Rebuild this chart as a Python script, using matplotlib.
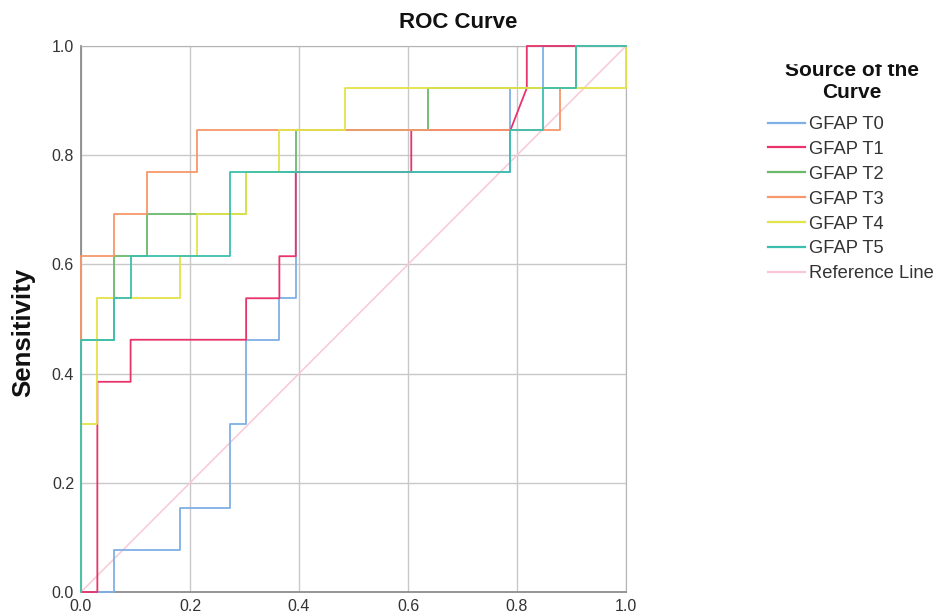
import matplotlib
matplotlib.use('Agg')
import matplotlib.pyplot as plt
from matplotlib.lines import Line2D
from matplotlib.patches import Rectangle

plt.rcParams['font.family'] = ['Liberation Sans', 'DejaVu Sans']

# 1 - specificity / sensitivity points
fpr_t0 = [0, 0.061, 0.061, 0.182, 0.182, 0.273, 0.273, 0.303, 0.303, 0.364, 0.364, 0.394, 0.394, 0.788, 0.788, 0.848, 0.848, 1.0]
tpr_t0 = [0, 0, 0.077, 0.077, 0.154, 0.154, 0.308, 0.308, 0.462, 0.462, 0.538, 0.538, 0.769, 0.769, 0.923, 0.923, 1.0, 1.0]

fpr_t1 = [0, 0.030, 0.030, 0.091, 0.091, 0.303, 0.303, 0.364, 0.364, 0.394, 0.394, 0.606, 0.606, 0.788, 0.818, 0.818, 1.0]
tpr_t1 = [0, 0, 0.385, 0.385, 0.462, 0.462, 0.538, 0.538, 0.615, 0.615, 0.769, 0.769, 0.846, 0.846, 0.923, 1.0, 1.0]

fpr_t2 = [0, 0, 0.061, 0.061, 0.121, 0.121, 0.303, 0.303, 0.394, 0.394, 0.636, 0.636, 0.909, 0.909, 1.0]
tpr_t2 = [0, 0.462, 0.462, 0.615, 0.615, 0.692, 0.692, 0.769, 0.769, 0.846, 0.846, 0.923, 0.923, 1.0, 1.0]

fpr_t3 = [0, 0, 0.061, 0.061, 0.121, 0.121, 0.212, 0.212, 0.879, 0.879, 0.909, 0.909, 1.0]
tpr_t3 = [0, 0.615, 0.615, 0.692, 0.692, 0.769, 0.769, 0.846, 0.846, 0.923, 0.923, 1.0, 1.0]

fpr_t4 = [0, 0, 0.030, 0.030, 0.182, 0.182, 0.212, 0.212, 0.303, 0.303, 0.364, 0.364, 0.485, 0.485, 1.0, 1.0]
tpr_t4 = [0, 0.308, 0.308, 0.538, 0.538, 0.615, 0.615, 0.692, 0.692, 0.769, 0.769, 0.846, 0.846, 0.923, 0.923, 1.0]

fpr_t5 = [0, 0, 0.061, 0.061, 0.091, 0.091, 0.273, 0.273, 0.788, 0.788, 0.848, 0.848, 0.909, 0.909, 1.0]
tpr_t5 = [0, 0.462, 0.462, 0.538, 0.538, 0.615, 0.615, 0.769, 0.769, 0.846, 0.846, 0.923, 0.923, 1.0, 1.0]

ref_x = [0, 1]
ref_y = [0, 1]

names = ['GFAP T0', 'GFAP T1', 'GFAP T2', 'GFAP T3', 'GFAP T4', 'GFAP T5']
colors = ['#7eb0e6', '#e8336b', '#6ab96a', '#f7976a', '#e3e34a', '#3dbfaf']
curves = [(fpr_t0, tpr_t0), (fpr_t1, tpr_t1), (fpr_t2, tpr_t2),
          (fpr_t3, tpr_t3), (fpr_t4, tpr_t4), (fpr_t5, tpr_t5)]
ticks = [0.0, 0.2, 0.4, 0.6, 0.8, 1.0]

W, H = 936, 614
fig = plt.figure(figsize=(W/100, H/100), dpi=100)
ax = fig.add_axes([81/W, 22/H, 545/W, 546/H])

ax.plot(ref_x, ref_y, color='#f8c8d6', lw=1.1, zorder=2)
for (fx, ty), c in zip(curves, colors):
    ax.plot(fx, ty, color=c, lw=1.3, zorder=3, clip_on=False)

ax.set_xlim(0, 1)
ax.set_ylim(0, 1)
ax.set_xticks(ticks)
ax.set_yticks(ticks)
ax.set_xticklabels(['%.1f' % t for t in ticks])
ax.set_yticklabels(['%.1f' % t for t in ticks])
ax.tick_params(length=0, labelsize=11.5, labelcolor='#333333', pad=5)
ax.grid(True, color='#c8c8c8', lw=1)
ax.set_axisbelow(True)
for s in ax.spines.values():
    s.set_color('#b4b4b4')
ax.spines['left'].set_color('#8c8c8c')
ax.spines['bottom'].set_color('#8c8c8c')
ax.spines['left'].set_linewidth(1.3)
ax.spines['bottom'].set_linewidth(1.3)

fig.text(23/W, 1 - 332/H, 'Sensitivity', rotation=90, ha='center', va='center',
         fontsize=18.5, fontweight='bold', color='#111111')
fig.text(458/W, 1 - 22/H, 'ROC Curve', ha='center', va='center',
         fontsize=16, fontweight='bold', color='#111111')

# legend
handles = [Line2D([], [], color=c, lw=1.6) for c in colors]
handles.append(Line2D([], [], color='#f8c8d6', lw=1.6))
labels = names + ['Reference Line']
leg = fig.legend(handles, labels, loc='upper left', bbox_to_anchor=(768/W, 1 - 116/H),
                 frameon=False, fontsize=13.2,
                 handlelength=2.0, handletextpad=0.22, labelspacing=0.43,
                 borderaxespad=0, borderpad=0)
for t in leg.get_texts():
    t.set_color('#333333')
fig.text(852/W, 1 - 70/H, 'Source of the', ha='center', va='center',
         fontsize=15, fontweight='bold', color='#111111')
fig.text(852/W, 1 - 93/H, 'Curve', ha='center', va='center',
         fontsize=15, fontweight='bold', color='#111111')

# top of the legend title is cut off in the original
fig.patches.append(Rectangle((740/W, 1 - 63/H), 196/W, 63/H,
                             transform=fig.transFigure, color='white', zorder=10))

fig.savefig('out.png', dpi=100)
